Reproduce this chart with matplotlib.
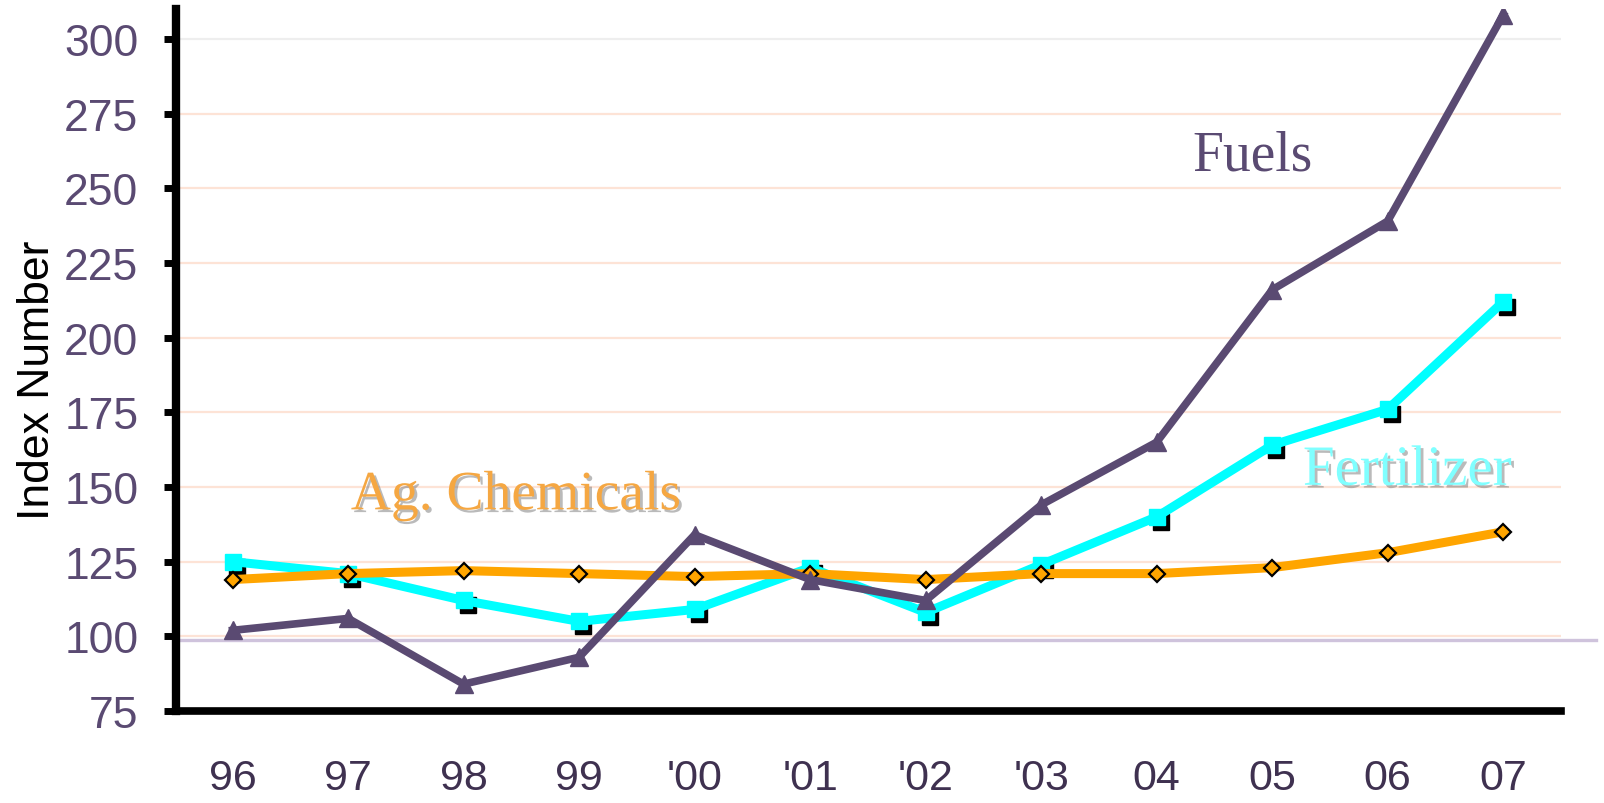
import matplotlib
matplotlib.use("Agg")
import matplotlib.pyplot as plt
import matplotlib.transforms as mtransforms
import matplotlib.patheffects as pe

# data
years = ["96", "97", "98", "99", "'00", "'01", "'02", "'03", "04", "05", "06", "07"]
fuels = [102, 106, 84, 93, 134, 119, 112, 144, 165, 216, 239, 308]
fertilizer = [125, 121, 112, 105, 109, 123, 108, 124, 140, 164, 176, 212]
ag_chemicals = [119, 121, 122, 121, 120, 121, 119, 121, 121, 123, 128, 135]
yticks = [75, 100, 125, 150, 175, 200, 225, 250, 275, 300]
base_line = 98.8

purple = "#5a4a72"
cyan = "#00ffff"
orange = "#ffa500"

plt.rcParams['font.family'] = ['Liberation Sans', 'DejaVu Sans']

fig = plt.figure(figsize=(16.04, 8.04), dpi=100)
ax = fig.add_axes([0.1097, 0.1144, 0.8635, 0.8732])

x = list(range(len(years)))

# grid lines
for v in yticks[1:]:
    c = "#eeeeee" if v == 300 else "#fde3d6"
    ax.axhline(v, color=c, lw=1.6, zorder=0)

# base line at ~100, running to the figure edge
ax.plot([-0.49, 11.8], [base_line, base_line], color="#cfc3dc", lw=2.4,
        clip_on=False, zorder=1)

# fertilizer with black square shadow
shadow = mtransforms.offset_copy(ax.transData, fig=fig, x=4, y=-5, units='dots')
ax.plot(x, fertilizer, ls='none', marker='s', ms=12, color='black',
        transform=shadow, zorder=2)
ax.plot(x, fertilizer, color=cyan, lw=6.5, marker='s', ms=12, zorder=3)

ax.plot(x, ag_chemicals, color=orange, lw=6.5, marker='D', ms=8,
        mfc=orange, mec='black', mew=1.6, zorder=4)

ax.plot(x, fuels, color=purple, lw=5.5, marker='^', ms=13, zorder=5)

# series labels
txt_shadow = [pe.withSimplePatchShadow(offset=(2, -2), shadow_rgbFace='#777777', alpha=0.5)]
ax.text(8.83, 261, "Fuels", color=purple, fontsize=40,
        family=['Liberation Serif'], ha='center', va='center')
ax.text(2.45, 147.2, "Ag. Chemicals", color="#f5a742", fontsize=40,
        family=['Liberation Serif'], ha='center', va='center',
        path_effects=txt_shadow)
ax.text(10.17, 155.4, "Fertilizer", color="#80ffff", fontsize=41,
        family=['Liberation Serif'], ha='center', va='center',
        path_effects=txt_shadow)

ax.set_xlim(-0.49, 11.5)
ax.set_ylim(75, 310)
ax.set_xticks(x)
ax.set_xticklabels(years, color="#3f3150", fontsize=31)
ax.set_yticks(yticks)
ax.set_yticklabels([str(v) for v in yticks], color=purple, fontsize=32)
ax.tick_params(axis='x', length=0, pad=34)
ax.tick_params(axis='y', length=9, width=5, color='black', pad=18)

for side in ['top', 'right']:
    ax.spines[side].set_visible(False)
ax.spines['left'].set_linewidth(6)
ax.spines['bottom'].set_linewidth(5.5)

ax.set_ylabel("Index Number", fontsize=32, color='black')
ax.yaxis.set_label_coords(-0.085, 0.473)

fig.savefig("out.png", dpi=100)
